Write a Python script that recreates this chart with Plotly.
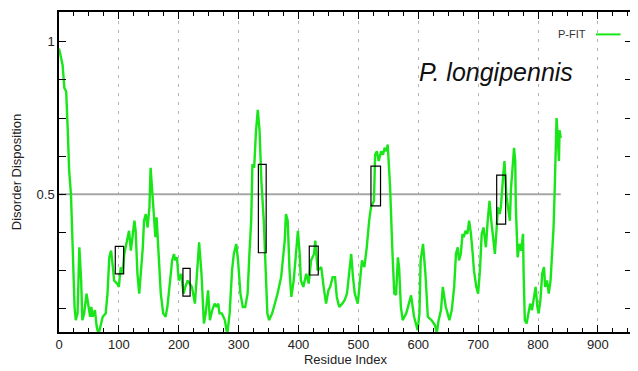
import plotly.graph_objects as go

# Residue index and disorder disposition (P-FIT)
residue = [0, 6, 9, 12, 14.5, 17, 20, 23, 26, 28, 31, 34, 37, 39, 42, 46, 49, 52, 54, 56,
           60, 63, 66, 69, 73, 78, 81, 84, 87, 90, 92, 97, 100, 103, 106, 109, 114, 117, 120, 123,
           126, 128, 131, 134, 137, 140, 142, 145, 148, 151, 153, 156, 159, 161, 163, 166, 170, 174, 178, 181,
           184, 186, 189, 192, 194, 197, 200, 204, 208, 211, 215, 218, 222, 227, 231, 234, 238, 242, 245, 249,
           252, 256, 260, 263, 266, 268, 272, 277, 281, 285, 289, 292, 296, 299, 303, 307, 311, 315, 318, 321,
           323, 326, 329, 332, 335, 338, 342, 345, 348, 351, 356, 359, 365, 371, 377, 379, 382, 385, 388, 392,
           396, 399, 402, 404, 408, 413, 417, 421, 426, 428, 432, 438, 442, 446, 450, 453, 457, 461, 464, 468,
           473, 477, 481, 485, 488, 491, 494, 499, 503, 506, 510, 514, 518, 521, 526, 528, 531, 534, 538, 541,
           544, 547, 549, 553, 557, 560, 563, 566, 568, 571, 574, 580, 588, 590, 593, 596, 599, 602, 604, 608,
           612, 616, 622, 628, 631, 634, 638, 641, 643, 646, 649, 652, 656, 660, 663, 666, 668, 671, 674, 676,
           679, 682, 685, 688, 691, 693, 697, 700, 703, 706, 709, 713, 716, 719, 722, 726, 728, 731, 733, 736,
           738, 742, 744, 747, 750, 753, 755, 758, 760, 762, 763, 766, 769, 772, 775, 776, 778, 781, 784, 787,
           790, 793, 796, 799, 801, 804, 807, 810, 812, 815, 818, 821, 823, 826, 828, 830, 831, 833, 835, 836,
           838]
disorder = [0.978, 0.924, 0.848, 0.837, 0.717, 0.576, 0.5, 0.304, 0.13, 0.087, 0.109, 0.326, 0.217, 0.087, 0.109, 0.174, 0.141, 0.098, 0.13, 0.098,
            0.12, 0.065, 0.04, 0.065, 0.098, 0.109, 0.174, 0.293, 0.315, 0.26, 0.217, 0.207, 0.196, 0.26, 0.239, 0.304, 0.348, 0.38, 0.315, 0.359,
            0.413, 0.38, 0.239, 0.174, 0.239, 0.326, 0.413, 0.435, 0.391, 0.457, 0.587, 0.511, 0.413, 0.359, 0.424, 0.304, 0.174, 0.109, 0.098, 0.13,
            0.196, 0.239, 0.283, 0.304, 0.283, 0.293, 0.217, 0.239, 0.174, 0.196, 0.217, 0.207, 0.196, 0.141, 0.239, 0.342, 0.239, 0.076, 0.109, 0.185,
            0.087, 0.12, 0.141, 0.13, 0.141, 0.109, 0.109, 0.087, 0.04, 0.109, 0.25, 0.304, 0.337, 0.283, 0.174, 0.13, 0.13, 0.174, 0.304, 0.413,
            0.598, 0.587, 0.707, 0.777, 0.707, 0.543, 0.413, 0.25, 0.109, 0.087, 0.109, 0.13, 0.174, 0.228, 0.348, 0.435, 0.413, 0.25, 0.163, 0.217,
            0.326, 0.38, 0.304, 0.217, 0.196, 0.239, 0.207, 0.283, 0.304, 0.348, 0.25, 0.261, 0.196, 0.141, 0.185, 0.196, 0.228, 0.228, 0.163, 0.13,
            0.141, 0.152, 0.174, 0.25, 0.304, 0.228, 0.174, 0.141, 0.239, 0.283, 0.261, 0.326, 0.413, 0.457, 0.478, 0.63, 0.641, 0.609, 0.641, 0.63,
            0.652, 0.641, 0.663, 0.522, 0.304, 0.174, 0.17, 0.293, 0.26, 0.13, 0.087, 0.109, 0.168, 0.14, 0.098, 0.076, 0.054, 0.109, 0.283, 0.337,
            0.239, 0.098, 0.087, 0.07, 0.045, 0.087, 0.12, 0.196, 0.163, 0.13, 0.109, 0.087, 0.12, 0.196, 0.304, 0.326, 0.283, 0.304, 0.37, 0.359,
            0.38, 0.37, 0.413, 0.37, 0.304, 0.25, 0.196, 0.174, 0.25, 0.37, 0.391, 0.326, 0.413, 0.478, 0.413, 0.326, 0.304, 0.391, 0.457, 0.435,
            0.457, 0.565, 0.609, 0.5, 0.457, 0.413, 0.522, 0.609, 0.652, 0.609, 0.457, 0.293, 0.337, 0.315, 0.37, 0.239, 0.087, 0.076, 0.109, 0.141,
            0.12, 0.163, 0.196, 0.13, 0.109, 0.152, 0.239, 0.261, 0.196, 0.217, 0.174, 0.217, 0.283, 0.391, 0.522, 0.685, 0.75, 0.685, 0.609, 0.71,
            0.685]

# Disorder threshold line
threshold_x = [0, 838]
threshold_y = [0.5, 0.5]

# Highlighted boxes: residue start, residue end, lower value, upper value
box_x0 = [94, 207, 333, 418, 521, 731]
box_x1 = [108, 219, 346, 433, 537, 746]
box_y0 = [0.239, 0.166, 0.308, 0.235, 0.462, 0.402]
box_y1 = [0.329, 0.257, 0.598, 0.330, 0.592, 0.563]

title_text = "P. longipennis"
series_name = "P-FIT"

FONT = "Liberation Sans, Arial, sans-serif"
GREEN = "#19e619"

fig = go.Figure()
fig.add_trace(go.Scatter(x=threshold_x, y=threshold_y, mode="lines",
                         line=dict(color="#a6a6a6", width=2), showlegend=False, hoverinfo="skip"))
fig.add_trace(go.Scatter(x=residue, y=disorder, mode="lines", name=series_name,
                         line=dict(color=GREEN, width=2.4), showlegend=False))

for a, b, c, d in zip(box_x0, box_x1, box_y0, box_y1):
    fig.add_shape(type="rect", xref="x", yref="y", x0=a, x1=b, y0=c, y1=d,
                  line=dict(color="black", width=1.2), fillcolor="rgba(0,0,0,0)")

# gnuplot-style legend: text then line sample
fig.add_annotation(xref="paper", yref="paper", x=0.923, y=0.93, text=series_name,
                   showarrow=False, xanchor="right", yanchor="middle",
                   font=dict(family=FONT, size=11, color="#333"))
fig.add_shape(type="line", xref="paper", yref="paper", x0=0.937, x1=0.98, y0=0.93, y1=0.93,
              line=dict(color=GREEN, width=2))

fig.add_annotation(xref="x", yref="y", x=730, y=0.902, text="<i>" + title_text + "</i>",
                   showarrow=False, xanchor="center", yanchor="middle",
                   font=dict(family=FONT, size=25, color="#111"))

# The page body adds an 8px offset; size the figure so the plot area lands where the reference has it
fig.update_layout(
    width=630, height=363,
    margin=dict(l=51, r=6, t=2, b=39),
    plot_bgcolor="white", paper_bgcolor="white",
    font=dict(family=FONT, size=13, color="#222"),
    showlegend=False,
)
fig.update_xaxes(
    range=[0, 957], dtick=100, tick0=0,
    showline=True, linecolor="black", linewidth=1.5, mirror="ticks",
    ticks="inside", ticklen=7, tickwidth=1.2, tickcolor="black",
    minor=dict(dtick=25, ticks="inside", ticklen=4, tickwidth=1, tickcolor="black", showgrid=False),
    showgrid=True, gridcolor="#b4b4b4", griddash="3px,6px", gridwidth=1,
    zeroline=False,
    title=dict(text="Residue Index", font=dict(size=13), standoff=4),
    tickfont=dict(size=13),
)
fig.update_yaxes(
    range=[0.048, 1.098], tickvals=[0.5, 1], ticktext=["0.5", "1"],
    showline=True, linecolor="black", linewidth=1.5, mirror="ticks",
    ticks="inside", ticklen=7, tickwidth=1.2, tickcolor="black",
    minor=dict(tickvals=[0.125, 0.25, 0.375, 0.625, 0.75, 0.875], ticks="inside", ticklen=7,
               tickwidth=1, tickcolor="black", showgrid=False),
    showgrid=False, zeroline=False,
    title=dict(text="Disorder Disposition", font=dict(size=13), standoff=12),
    tickfont=dict(size=13),
)

fig.write_html("out.html")
